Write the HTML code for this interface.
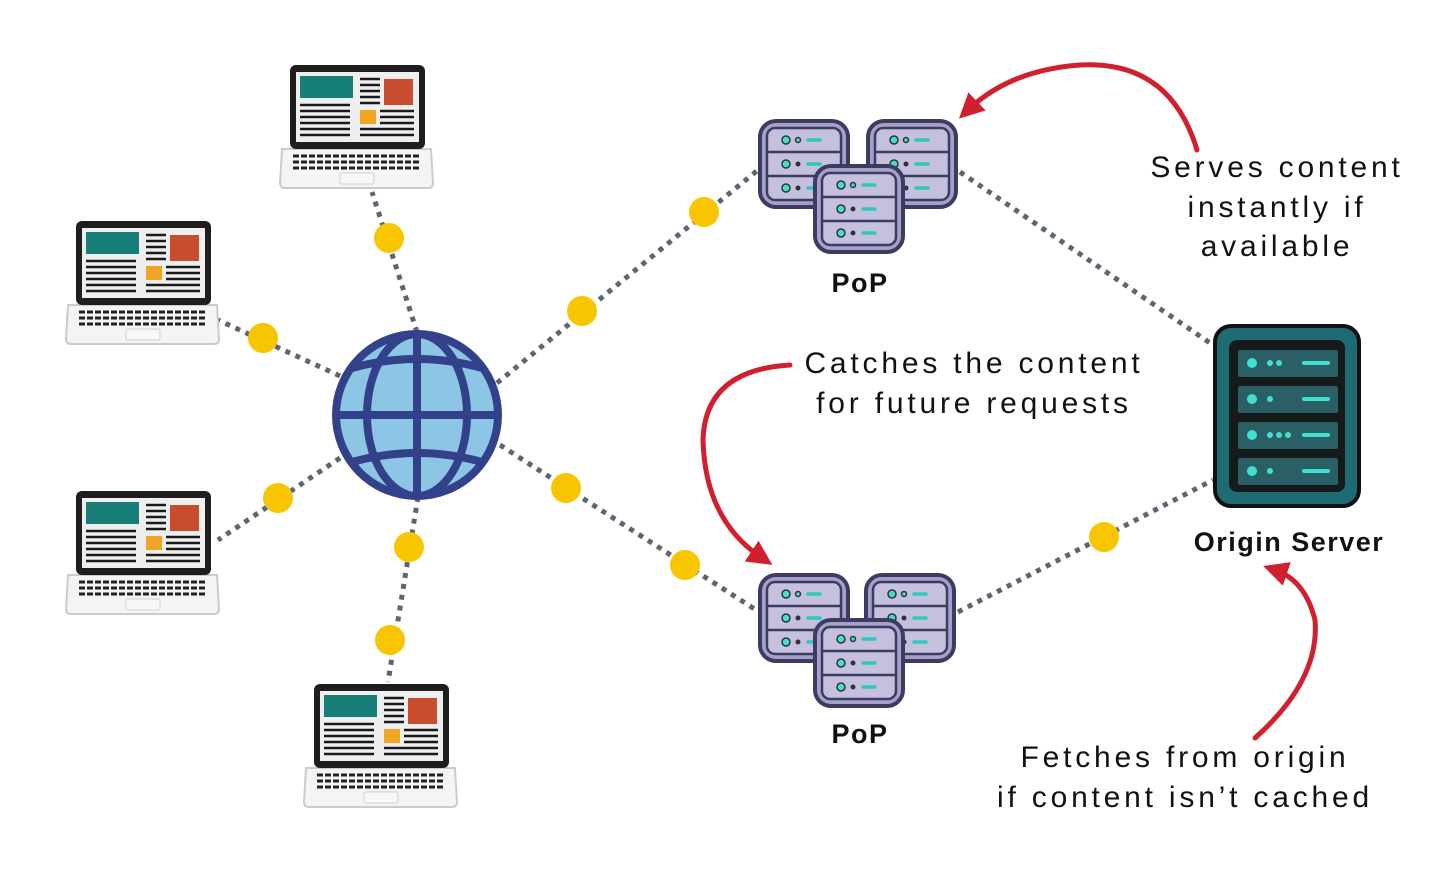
<!DOCTYPE html>
<html><head><meta charset="utf-8"><style>
html,body{margin:0;padding:0;background:#fff;}
svg{display:block;}
.t{font-family:"Comic Sans MS","Liberation Sans",sans-serif;font-size:30px;fill:#111;letter-spacing:3.8px;}
.b{font-family:"Liberation Sans",sans-serif;font-size:27px;font-weight:bold;fill:#111;letter-spacing:1.5px;}
</style></head><body>
<svg width="1456" height="874" viewBox="0 0 1456 874" xmlns="http://www.w3.org/2000/svg">
<defs>
<g id="lap">
  <path d="M2 84 L151 84 L153 118 Q153 123 148 123 L5 123 Q0 123 0 118 Z" fill="#f3f4f4" stroke="#c8cccc" stroke-width="2"/>
  <rect x="10" y="0" width="135" height="84" rx="6" fill="#1e1e1e"/>
  <rect x="16" y="7" width="123" height="70" fill="#efefef"/>
  <rect x="20" y="11" width="53" height="22" fill="#177f78"/>
  <rect x="104" y="14" width="29" height="26" fill="#c84c2e"/>
  <rect x="80" y="45" width="16" height="14" fill="#f0a523"/>
  <g stroke="#1a1a1a" stroke-width="2.5">
    <line x1="80" y1="14" x2="100" y2="14"/><line x1="80" y1="20" x2="100" y2="20"/><line x1="80" y1="26" x2="100" y2="26"/><line x1="80" y1="32" x2="100" y2="32"/><line x1="80" y1="38" x2="100" y2="38"/>
    <line x1="20" y1="40" x2="70" y2="40"/><line x1="20" y1="46" x2="70" y2="46"/><line x1="20" y1="52" x2="70" y2="52"/><line x1="20" y1="58" x2="70" y2="58"/><line x1="20" y1="64" x2="70" y2="64"/><line x1="20" y1="70" x2="70" y2="70"/>
    <line x1="100" y1="46" x2="134" y2="46"/><line x1="100" y1="52" x2="134" y2="52"/><line x1="100" y1="58" x2="134" y2="58"/><line x1="80" y1="64" x2="134" y2="64"/><line x1="80" y1="70" x2="134" y2="70"/>
  </g>
  <g stroke="#222" stroke-width="3" stroke-dasharray="6 2">
    <line x1="13" y1="91" x2="140" y2="91"/><line x1="13" y1="97" x2="140" y2="97"/><line x1="13" y1="103" x2="140" y2="103"/>
  </g>
  <rect x="60" y="108" width="34" height="11" rx="2" fill="#f8f8f8" stroke="#d0d0d0"/>
</g>
<g id="srv">
  <rect x="2" y="2" width="88" height="86" rx="16" fill="#a6a1c8" stroke="#3c3b62" stroke-width="4"/>
  <rect x="9" y="9" width="74" height="72" rx="8" fill="#c4c0dd" stroke="#3c3b62" stroke-width="2.5"/>
  <line x1="9" y1="33" x2="83" y2="33" stroke="#3c3b62" stroke-width="2.5"/>
  <line x1="9" y1="57" x2="83" y2="57" stroke="#3c3b62" stroke-width="2.5"/>
  <g fill="#3fe0d0" stroke="#333" stroke-width="1.5">
    <circle cx="28" cy="21" r="4"/><circle cx="28" cy="45" r="4"/><circle cx="28" cy="69" r="4"/>
    <circle cx="40" cy="21" r="2.5"/>
  </g>
  <circle cx="40" cy="45" r="2.5" fill="#333"/><circle cx="40" cy="69" r="2.5" fill="#333"/>
  <g stroke="#2cc9bb" stroke-width="3.5" stroke-linecap="round">
    <line x1="50" y1="21" x2="62" y2="21"/><line x1="50" y1="45" x2="62" y2="45"/><line x1="50" y1="69" x2="62" y2="69"/>
  </g>
</g>
<marker id="ah" viewBox="0 0 10 10" refX="5" refY="5" markerWidth="5" markerHeight="5" orient="auto-start-reverse">
  <path d="M0 0 L10 5 L0 10 Z" fill="#d0202e"/>
</marker>
</defs>

<g stroke="#5b6670" stroke-width="5" stroke-dasharray="5 6" fill="none">
  <line x1="417" y1="332" x2="372" y2="192"/>
  <line x1="340" y1="376" x2="218" y2="320"/>
  <line x1="340" y1="458" x2="218" y2="540"/>
  <line x1="418" y1="497" x2="388" y2="682"/>
  <line x1="497" y1="383" x2="758" y2="170"/>
  <line x1="500" y1="445" x2="756" y2="610"/>
  <line x1="960" y1="172" x2="1213" y2="345"/>
  <line x1="958" y1="612" x2="1213" y2="480"/>
</g>
<g fill="#f7c600">
  <circle cx="389" cy="238" r="15"/><circle cx="263" cy="338" r="15"/><circle cx="278" cy="498" r="15"/>
  <circle cx="409" cy="547" r="15"/><circle cx="390" cy="640" r="15"/>
  <circle cx="582" cy="311" r="15"/><circle cx="704" cy="212" r="15"/>
  <circle cx="566" cy="488" r="15"/><circle cx="685" cy="565" r="15"/>
  <circle cx="1104" cy="537" r="15"/>
</g>

<use href="#lap" x="280" y="65"/>
<use href="#lap" x="66" y="221"/>
<use href="#lap" x="66" y="491"/>
<use href="#lap" x="304" y="684"/>

<g stroke="#33408a" stroke-width="8" fill="none">
  <circle cx="417" cy="415" r="81" fill="#8cc6e4"/>
  <ellipse cx="417" cy="415" rx="50" ry="81"/>
  <line x1="417" y1="334" x2="417" y2="496"/>
  <line x1="336" y1="415" x2="498" y2="415"/>
  <path d="M352 368 Q417 350 482 368"/>
  <path d="M352 462 Q417 444 482 462"/>
</g>

<use href="#srv" x="758" y="119"/>
<use href="#srv" x="866" y="119"/>
<use href="#srv" x="813" y="164"/>
<use href="#srv" x="758" y="573"/>
<use href="#srv" x="864" y="573"/>
<use href="#srv" x="813" y="618"/>
<text class="b" x="860" y="292" text-anchor="middle">PoP</text>
<text class="b" x="860" y="743" text-anchor="middle">PoP</text>

<rect x="1215" y="326" width="144" height="180" rx="16" fill="#1f6b73" stroke="#111" stroke-width="4"/>
<rect x="1229" y="340" width="116" height="152" rx="8" fill="#151a1b"/>
<g>
  <rect x="1238" y="350" width="100" height="27" rx="2" fill="#2a5f66"/>
  <rect x="1238" y="386" width="100" height="27" rx="2" fill="#2a5f66"/>
  <rect x="1238" y="422" width="100" height="27" rx="2" fill="#2a5f66"/>
  <rect x="1238" y="458" width="100" height="27" rx="2" fill="#2a5f66"/>
  <g fill="#3fe0d0">
    <circle cx="1252" cy="363" r="5"/><circle cx="1252" cy="399" r="5"/><circle cx="1252" cy="435" r="5"/><circle cx="1252" cy="471" r="5"/>
    <circle cx="1270" cy="363" r="3"/><circle cx="1279" cy="363" r="3"/>
    <circle cx="1270" cy="399" r="3"/>
    <circle cx="1270" cy="435" r="3"/><circle cx="1279" cy="435" r="3"/><circle cx="1288" cy="435" r="3"/>
    <circle cx="1270" cy="471" r="3"/>
  </g>
  <g stroke="#3fe0d0" stroke-width="4" stroke-linecap="round">
    <line x1="1304" y1="363" x2="1328" y2="363"/><line x1="1304" y1="399" x2="1328" y2="399"/><line x1="1304" y1="435" x2="1328" y2="435"/><line x1="1304" y1="471" x2="1328" y2="471"/>
  </g>
</g>
<text class="b" x="1289" y="551" text-anchor="middle">Origin Server</text>

<g stroke="#d0202e" stroke-width="5" fill="none" stroke-linecap="round">
  <path d="M1197 150 Q1170 60 1080 65 Q1010 70 968 110" marker-end="url(#ah)"/>
  <path d="M790 365 Q705 370 703 440 Q705 520 762 558" marker-end="url(#ah)"/>
  <path d="M1255 738 Q1320 680 1315 620 Q1305 580 1275 570" marker-end="url(#ah)"/>
</g>

<text class="t" x="1277" y="177" text-anchor="middle">Serves content</text>
<text class="t" x="1277" y="217" text-anchor="middle">instantly if</text>
<text class="t" x="1277" y="256" text-anchor="middle">available</text>
<text class="t" x="974" y="373" text-anchor="middle">Catches the content</text>
<text class="t" x="974" y="413" text-anchor="middle">for future requests</text>
<text class="t" x="1185" y="767" text-anchor="middle">Fetches from origin</text>
<text class="t" x="1185" y="807" text-anchor="middle">if content isn’t cached</text>
</svg>
</body></html>
